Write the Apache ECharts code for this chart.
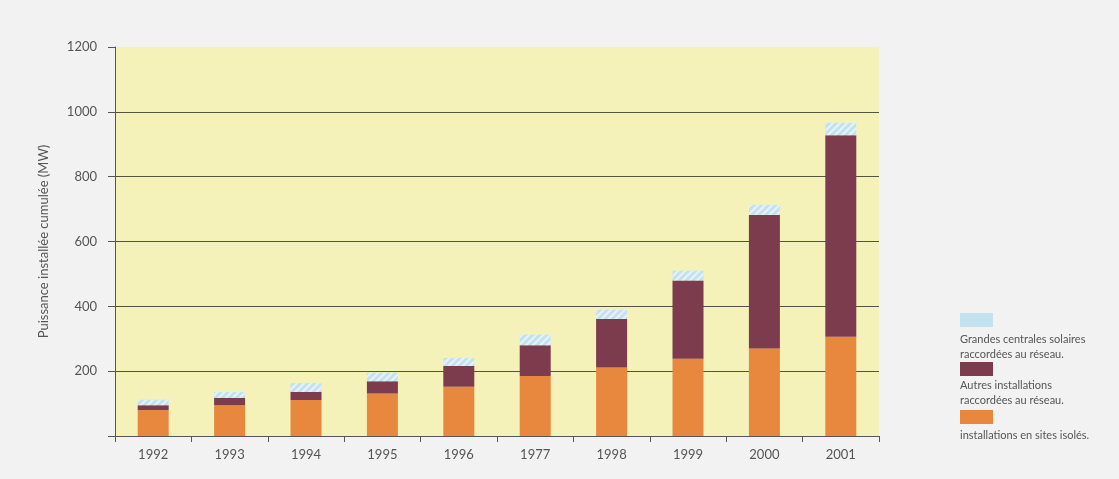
<!DOCTYPE html>
<html><head><meta charset="utf-8">
<script src="https://cdn.jsdelivr.net/npm/echarts@6/dist/echarts.min.js"></script>
<style>html,body{margin:0;padding:0;background:#f2f2f2;}#c{width:1119px;height:479px;}</style>
</head><body><div id="c"></div>
<script>
const categories = ['1992','1993','1994','1995','1996','1977','1998','1999','2000','2001'];
const sitesIsoles = [80, 95, 111, 131, 152, 185, 211, 238, 270, 306];
const autresReseau = [15, 23, 25, 38, 64, 95, 150, 242, 412, 622];
const grandesCentrales = [17, 18, 27, 26, 25, 33, 29, 30, 31, 38];
const yTicks = [200, 400, 600, 800, 1000, 1200];

const font = 'Lato, "DejaVu Sans", sans-serif';
const txt = '#555555';
const chart = echarts.init(document.getElementById('c'));
const lx = 960;
chart.setOption({
  backgroundColor: '#f2f2f2',
  animation: false,
  grid: { left: 115, right: 240, top: 47, bottom: 43, show: true, backgroundColor: '#f5f2b9', borderWidth: 0 },
  xAxis: {
    type: 'category', data: categories,
    axisLine: { lineStyle: { color: '#555', width: 1 } },
    axisTick: { show: true, length: 6, lineStyle: { color: '#555' } },
    axisLabel: { color: txt, fontFamily: font, fontSize: 13, margin: 12 }
  },
  yAxis: {
    type: 'value', min: 0, max: 1200, interval: 200,
    name: 'Puissance installée cumulée (MW)', nameLocation: 'middle', nameGap: 65, nameRotate: 90,
    nameTextStyle: { color: txt, fontFamily: font, fontSize: 13 },
    axisLine: { show: true, lineStyle: { color: '#555' } },
    axisTick: { show: true, length: 7, lineStyle: { color: '#555' } },
    axisLabel: { color: txt, fontFamily: font, fontSize: 13, margin: 18, formatter: v => yTicks.includes(v) ? String(v) : '' },
    splitLine: { show: true, lineStyle: { color: ['#555','#55553f','#55553f','#55553f','#55553f','#55553f','rgba(0,0,0,0)'], width: 1 } }
  },
  series: [
    { name: 'installations en sites isolés.', type: 'bar', stack: 't', barWidth: 31, data: sitesIsoles, itemStyle: { color: '#e8883f' } },
    { name: 'Autres installations raccordées au réseau.', type: 'bar', stack: 't', barWidth: 31, data: autresReseau, itemStyle: { color: '#7d3b4e' } },
    { name: 'Grandes centrales solaires raccordées au réseau.', type: 'bar', stack: 't', barWidth: 31, data: grandesCentrales,
      itemStyle: { color: '#c3e2ef', decal: { symbol: 'rect', symbolSize: 1, dashArrayX: [[1, 0]], dashArrayY: [2, 3], rotation: -Math.PI / 4, color: 'rgba(255,255,255,0.6)' } } }
  ],
  graphic: [
    { type: 'rect', left: lx, top: 313, shape: { width: 33, height: 14 }, style: { fill: '#c3e2ef' } },
    { type: 'text', left: lx, top: 332, style: { text: 'Grandes centrales solaires\nraccordées au réseau.', fill: txt, font: '11px ' + font, lineHeight: 15 } },
    { type: 'rect', left: lx, top: 362, shape: { width: 33, height: 14 }, style: { fill: '#7d3b4e' } },
    { type: 'text', left: lx, top: 378, style: { text: 'Autres installations\nraccordées au réseau.', fill: txt, font: '11px ' + font, lineHeight: 15 } },
    { type: 'rect', left: lx, top: 410, shape: { width: 33, height: 14 }, style: { fill: '#e8883f' } },
    { type: 'text', left: lx, top: 428, style: { text: 'installations en sites isolés.', fill: txt, font: '11px ' + font, lineHeight: 15 } }
  ]
});
</script></body></html>
